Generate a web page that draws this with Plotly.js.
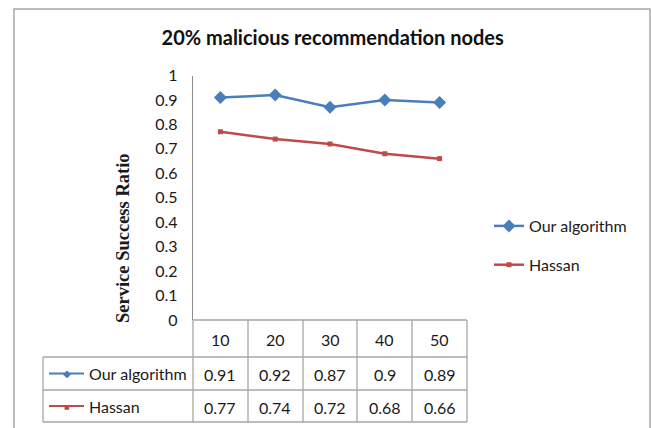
<!DOCTYPE html>
<html>
<head>
<meta charset="utf-8">
<script src="https://cdn.plot.ly/plotly-3.0.1.min.js"></script>
<style>
  html, body { margin: 0; padding: 0; background: #ffffff; }
  #chart { width: 651px; height: 428px; }
</style>
</head>
<body>
<div id="chart"></div>
<script>
// Chart data
const categories = ['10', '20', '30', '40', '50'];
const seriesNames = ['Our algorithm', 'Hassan'];
const ourAlgorithm = [0.91, 0.92, 0.87, 0.9, 0.89];
const hassan = [0.77, 0.74, 0.72, 0.68, 0.66];
const yTickValues = [0, 0.1, 0.2, 0.3, 0.4, 0.5, 0.6, 0.7, 0.8, 0.9, 1];
const yTickLabels = ['0', '0.1', '0.2', '0.3', '0.4', '0.5', '0.6', '0.7', '0.8', '0.9', '1'];

const W = 651, H = 428;
const px = x => x / W;          // pixel column -> paper x
const py = y => 1 - y / H;      // pixel row -> paper y

const BLUE = '#4a7ebb';
const RED = '#be4b48';
const GRID = '#a6a6a6';
const FONT = 'Lato, "Open Sans", sans-serif';
const TXT = '#1a1a1a';

const seriesValues = [ourAlgorithm, hassan];
const seriesColors = [BLUE, RED];
const seriesMarkers = [
  { symbol: 'diamond', size: 10 },
  { symbol: 'square', size: 5 }
];

const traces = seriesNames.map((name, i) => ({
  type: 'scatter',
  mode: 'lines+markers',
  name: name,
  legendgroup: 'g' + i,
  x: categories,
  y: seriesValues[i],
  line: { color: seriesColors[i], width: 2.5 },
  marker: { color: seriesColors[i], symbol: seriesMarkers[i].symbol, size: seriesMarkers[i].size },
  cliponaxis: false,
  hoverinfo: 'x+y'
}));

// Data table geometry (pixels)
const tableLeft = 43, plotLeft = 193, plotRight = 467;
const rowLines = [320, 357, 390, 422];
const colLines = [193, 248, 303, 357, 412, 467];

const shapes = [];
// outer frame
shapes.push({ type: 'path', xref: 'paper', yref: 'paper',
  path: `M ${px(14)} ${py(440)} L ${px(14)} ${py(9)} L ${px(650)} ${py(9)} L ${px(650)} ${py(440)}`,
  line: { color: GRID, width: 1.5 } });
// horizontal table lines
shapes.push({ type: 'line', xref: 'paper', yref: 'paper', x0: px(plotLeft), x1: px(plotRight), y0: py(rowLines[0]), y1: py(rowLines[0]), line: { color: GRID, width: 1.3 } });
for (let r = 1; r < rowLines.length; r++) {
  shapes.push({ type: 'line', xref: 'paper', yref: 'paper', x0: px(tableLeft), x1: px(plotRight), y0: py(rowLines[r]), y1: py(rowLines[r]), line: { color: GRID, width: 1.3 } });
}
// vertical table lines
colLines.forEach(c => {
  shapes.push({ type: 'line', xref: 'paper', yref: 'paper', x0: px(c), x1: px(c), y0: py(rowLines[0]), y1: py(rowLines[3]), line: { color: GRID, width: 1.3 } });
});
shapes.push({ type: 'line', xref: 'paper', yref: 'paper', x0: px(tableLeft), x1: px(tableLeft), y0: py(rowLines[1]), y1: py(rowLines[3]), line: { color: GRID, width: 1.3 } });

const annotations = [];
const cell = (extra) => Object.assign({ showarrow: false, xanchor: 'center', yanchor: 'middle' }, extra);
// y axis title
annotations.push(cell({ xref: 'paper', yref: 'paper', x: px(123), y: py(238),
  text: '<b>Service Success Ratio</b>', textangle: -90,
  font: { family: '"Liberation Serif", "Times New Roman", serif', size: 18.5, color: TXT } }));
// header row of the table (category index on the x axis)
categories.forEach((c, j) => {
  annotations.push(cell({ xref: 'x', yref: 'paper', x: j, y: py((rowLines[0] + rowLines[1]) / 2 + 1),
    text: c, font: { family: FONT, size: 16, color: TXT } }));
});
// value rows with legend keys
seriesNames.forEach((name, i) => {
  const yMid = (rowLines[i + 1] + rowLines[i + 2]) / 2;
  shapes.push({ type: 'line', xref: 'paper', yref: 'paper', x0: px(49), x1: px(84), y0: py(yMid), y1: py(yMid),
    line: { color: seriesColors[i], width: 2.2 } });
  annotations.push(cell({ xref: 'paper', yref: 'paper', x: px(66.5), y: py(yMid),
    text: i === 0 ? '◆' : '■', font: { family: 'DejaVu Sans', size: i === 0 ? 10 : 6, color: seriesColors[i] } }));
  annotations.push(cell({ xref: 'paper', yref: 'paper', x: px(87), y: py(yMid), xanchor: 'left',
    text: name, font: { family: FONT, size: 16, color: TXT } }));
  seriesValues[i].forEach((v, j) => {
    annotations.push(cell({ xref: 'x', yref: 'paper', x: j, y: py(yMid + 1),
      text: String(v), font: { family: FONT, size: 16, color: TXT } }));
  });
});

const layout = {
  width: W, height: H,
  margin: { l: 0, r: 0, t: 0, b: 0 },
  paper_bgcolor: '#ffffff',
  plot_bgcolor: '#ffffff',
  showlegend: true,
  title: {
    text: '<b>20% malicious recommendation nodes</b>',
    x: 0.511, xanchor: 'center', y: py(38), yanchor: 'middle', yref: 'paper',
    font: { family: FONT, size: 20, color: '#111' }
  },
  xaxis: {
    type: 'category',
    domain: [px(plotLeft), px(plotRight)],
    range: [-0.5, 4.5],
    showticklabels: false,
    showgrid: false, zeroline: false, showline: false, ticks: '',
    fixedrange: true
  },
  yaxis: {
    domain: [py(320), py(75.5)],
    range: [0, 1],
    tickvals: yTickValues,
    ticktext: yTickLabels,
    showgrid: false, zeroline: false,
    showline: true, linecolor: '#8c8c8c', linewidth: 1.3,
    ticks: 'outside', ticklen: 11, tickcolor: 'rgba(0,0,0,0)',
    tickfont: { family: FONT, size: 16, color: TXT },
    fixedrange: true
  },
  legend: {
    x: px(489), y: py(209), xanchor: 'left', yanchor: 'top',
    bgcolor: 'rgba(0,0,0,0)',
    font: { family: FONT, size: 16, color: TXT },
    tracegroupgap: 15,
    itemwidth: 30
  },
  shapes: shapes,
  annotations: annotations
};

Plotly.newPlot('chart', traces, layout, { displayModeBar: false, staticPlot: true });
</script>
</body>
</html>
